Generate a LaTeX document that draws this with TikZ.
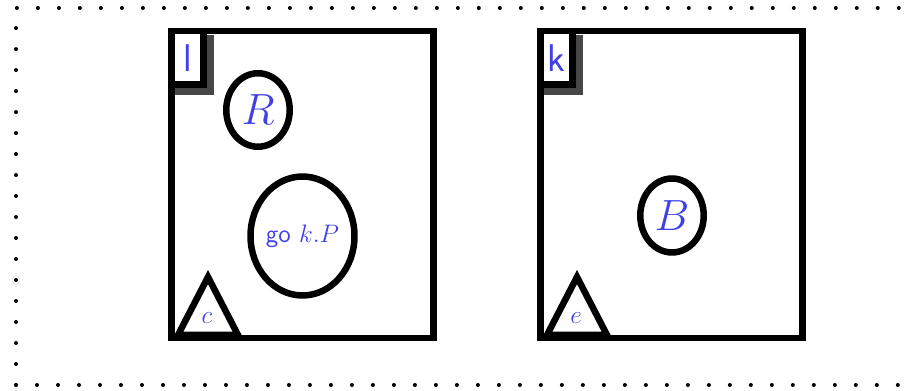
\documentclass[tikz,border=0pt]{standalone}
\usepackage{amsmath}
\usepackage{tikz}
\usetikzlibrary{shapes.geometric}
\definecolor{inkblue}{RGB}{64,64,230}

\begin{document}
\begin{tikzpicture}[x=0.02cm, y=-0.02cm, line width=0.13cm,
  every node/.style={text=inkblue, inner sep=0pt},
  frame/.style={draw, rectangle, minimum width=5.24cm, minimum height=6.14cm},
  tag/.style={draw, fill=white, rectangle, minimum width=0.65cm, minimum height=1.07cm, font=\sffamily\fontsize{22}{25}\selectfont},
  tagshadow/.style={fill=black!72, rectangle, minimum width=0.78cm, minimum height=1.2cm},
  blob/.style={draw, ellipse}]
\useasboundingbox (0,0) rectangle (904,391);
% Outer dotted border
\draw[line width=0.08cm, line cap=round, dash pattern=on 0pt off 0.42cm] (16,385) -- (16,8) -- (940,8);
\draw[line width=0.08cm, line cap=round, dash pattern=on 0pt off 0.42cm] (16,385) -- (940,385);
% Boxes
\node[frame] (boxl) at (302.5,184.5) {};
\node[frame] (boxk) at (671.5,184.5) {};
% Tags
\node[tagshadow] (shl) at (194.5,65) {};
\node[tag] (tagl) at (187.5,58) {l};
\node[tagshadow] (shk) at (563.5,65) {};
\node[tag] (tagk) at (556.5,58) {k};
% Ellipses
\node[blob, minimum width=1.27cm, minimum height=1.47cm, font=\fontsize{25}{30}\selectfont] (vR) at (258,110) {$R$};
\node[blob, minimum width=2.08cm, minimum height=2.38cm] (vP) at (302.5,236) {};
\node[font=\fontsize{14.5}{17}\selectfont] (tP) at (vP) {\textsf{go} $k.P$};
\node[blob, minimum width=1.27cm, minimum height=1.48cm, font=\fontsize{25}{30}\selectfont] (vB) at (672,215.5) {$B$};
% Triangles
\draw[line join=miter] (178,335) -- (208,277) -- (238,335) -- cycle;
\node[font=\fontsize{14}{16}\selectfont] (tc) at (207,318) {$c$};
\draw[line join=miter] (547,335) -- (577,277) -- (607,335) -- cycle;
\node[font=\fontsize{14}{16}\selectfont] (te) at (576,318) {$e$};
\end{tikzpicture}
\end{document}
